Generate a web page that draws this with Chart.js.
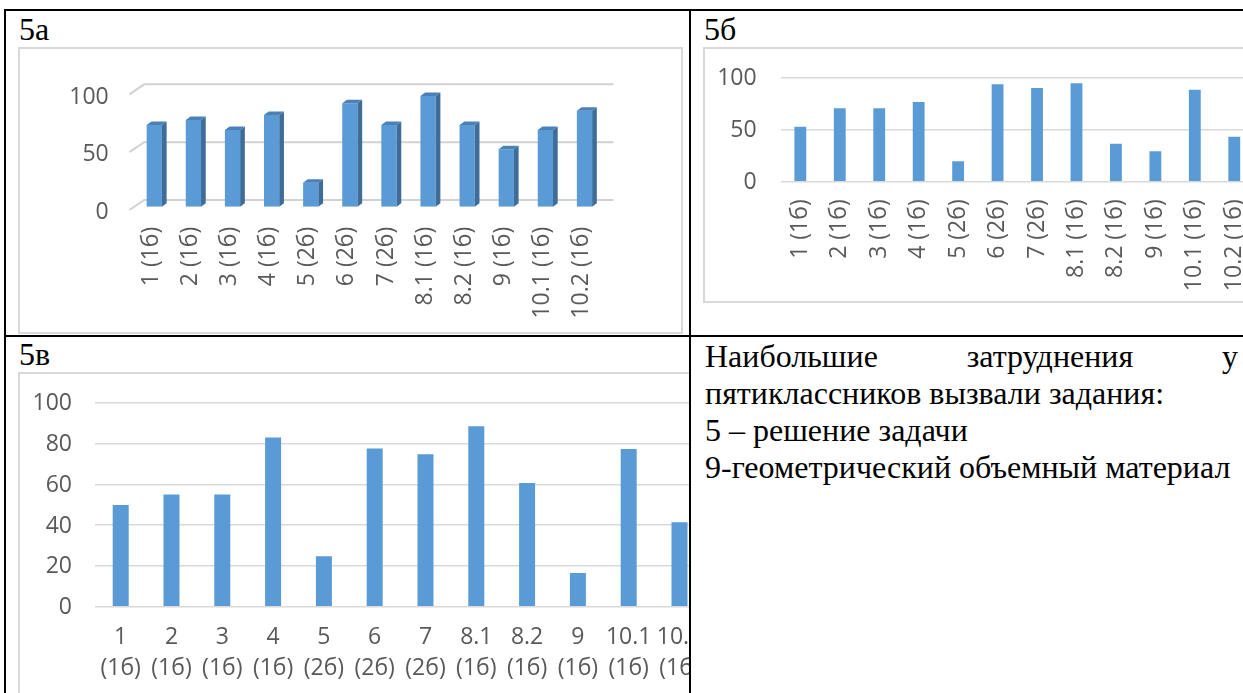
<!DOCTYPE html>
<html lang="ru">
<head>
<meta charset="utf-8">
<title>Результаты 5 классов</title>
<script src="https://cdn.jsdelivr.net/npm/chart.js@4.4.1/dist/chart.umd.min.js"></script>
<style>
  html, body { margin: 0; padding: 0; background: #fff; }
  body {
    position: relative; width: 1243px; height: 693px; overflow: hidden;
    font-family: "Liberation Serif", "Times New Roman", serif; color: #000;
  }
  .rule { position: absolute; background: #000; }
  .cap { position: absolute; font-size: 32px; line-height: 37px; white-space: nowrap; }
  .frame { position: absolute; border: 2px solid #d9d9d9; background: #fff; }
  .frame canvas { position: absolute; left: 0; top: 0; }
  .clip { position: absolute; overflow: hidden; }
  .note { position: absolute; left: 705px; top: 338px; width: 533px; font-size: 32px; line-height: 37px; }
  .note .just { text-align: justify; text-align-last: justify; }
</style>
</head>
<body>

<!-- table rules -->
<div class="rule" style="left:4px; top:9px; width:1239px; height:2px;"></div>
<div class="rule" style="left:4px; top:9px; width:2px; height:684px;"></div>
<div class="rule" style="left:689px; top:9px; width:2px; height:684px;"></div>
<div class="rule" style="left:4px; top:335px; width:1239px; height:2px;"></div>

<div class="cap" style="left:19px; top:11px;">5а</div>
<div class="frame" style="left:18px; top:47px; width:661px; height:283px;">
  <canvas id="c5a" width="661" height="283"></canvas>
</div>

<div class="cap" style="left:704px; top:11px;">5б</div>
<div class="frame" style="left:703px; top:47px; width:700px; height:252px;">
  <canvas id="c5b" width="700" height="252"></canvas>
</div>

<div class="clip" style="left:6px; top:337px; width:683px; height:356px;">
  <div class="cap" style="left:13px; top:-1px;">5в</div>
  <div class="frame" style="left:12px; top:35px; width:720px; height:340px;">
    <canvas id="c5v" width="720" height="340"></canvas>
  </div>
</div>

<div class="note">
  <div class="just">Наибольшие затруднения у</div>
  <div>пятиклассников вызвали задания:</div>
  <div>5 – решение задачи</div>
  <div>9-геометрический объемный материал</div>
</div>

<script>
// ------------------------------------------------------------
// data (% of the class that solved the task)
// ------------------------------------------------------------
const TASKS  = ["1", "2", "3", "4", "5", "6", "7", "8.1", "8.2", "9", "10.1", "10.2"];
const POINTS = ["(1б)", "(1б)", "(1б)", "(1б)", "(2б)", "(2б)", "(2б)", "(1б)", "(1б)", "(1б)", "(1б)", "(1б)"];

const VALUES_5A = [70.6, 74.9, 66.3, 79.3, 20.7, 89.4, 70.6, 95.7, 70.6, 49.6, 66.3, 83.0];
const VALUES_5B = [52.7, 70.3, 70.3, 76.3, 19.5, 93.3, 89.7, 94.2, 36.4, 29.1, 88.1, 43.1];
const VALUES_5V = [49.8, 55.0, 55.0, 83.0, 24.7, 77.5, 74.7, 88.4, 60.6, 16.5, 77.3, 41.4];

const Y_TICKS_5A = [0, 50, 100];
const Y_TICKS_5B = [0, 50, 100];
const Y_TICKS_5V = [0, 20, 40, 60, 80, 100];

const BAR = "#5b9bd5";
const BAR_SIDE = "#3f6d99";
const BAR_TOP = "#4b81b6";
const GRID = "#d9d9d9";
const LABEL = "#595959";
const FONT = { family: "'Open Sans', 'Noto Sans', sans-serif", size: 23 };

const rotatedLabels = TASKS.map((t, i) => t + " " + POINTS[i]);
const stackedLabels = TASKS.map((t, i) => [t, POINTS[i]]);

// fake Excel 3D: back wall grid + bar sides/tops
const WALL = { dx: 9.4, dy: 6.7 };
const FLOOR = { dx: 5.3, dy: 3.3 };
const DEPTH = { dx: 4.7, dy: 3.5 };

const bar3d = {
    id: "bar3d",
    beforeDatasetsDraw(chart) {
        const { ctx, chartArea: a, scales: { y } } = chart;
        ctx.save();
        ctx.strokeStyle = "#d2d2d2";
        ctx.lineWidth = 2;
        y.ticks.forEach(t => {
            const py = y.getPixelForValue(t.value);
            ctx.beginPath();
            ctx.moveTo(a.left - FLOOR.dx, py + FLOOR.dy);
            ctx.lineTo(a.left + WALL.dx, py - WALL.dy);
            ctx.lineTo(a.right + WALL.dx, py - WALL.dy);
            ctx.stroke();
        });
        ctx.restore();
    },
    afterDatasetsDraw(chart) {
        const { ctx } = chart;
        ctx.save();
        chart.getDatasetMeta(0).data.forEach(bar => {
            const { x, y, base, width } = bar.getProps(["x", "y", "base", "width"], true);
            const l = x - width / 2, r = x + width / 2;
            ctx.fillStyle = BAR_SIDE;
            ctx.beginPath();
            ctx.moveTo(r, y);
            ctx.lineTo(r + DEPTH.dx, y - DEPTH.dy);
            ctx.lineTo(r + DEPTH.dx, base - DEPTH.dy);
            ctx.lineTo(r, base);
            ctx.closePath();
            ctx.fill();
            ctx.fillStyle = BAR_TOP;
            ctx.beginPath();
            ctx.moveTo(l, y);
            ctx.lineTo(r, y);
            ctx.lineTo(r + DEPTH.dx, y - DEPTH.dy);
            ctx.lineTo(l + DEPTH.dx, y - DEPTH.dy);
            ctx.closePath();
            ctx.fill();
        });
        ctx.restore();
    }
};

function makeChart(id, cfg) {
    const ticksY = cfg.yTicks;
    return new Chart(document.getElementById(id), {
        type: "bar",
        data: {
            labels: cfg.labels,
            datasets: [{
                data: cfg.values,
                backgroundColor: BAR,
                borderWidth: 0,
                barPercentage: cfg.barPct,
                categoryPercentage: 1
            }]
        },
        plugins: cfg.plugins || [],
        options: {
            responsive: false,
            animation: false,
            events: [],
            layout: { padding: { top: cfg.area.top, right: cfg.area.right, left: 0, bottom: 0 } },
            plugins: { legend: { display: false }, tooltip: { enabled: false } },
            scales: {
                x: {
                    grid: { display: false, drawTicks: false },
                    border: { display: false },
                    ticks: {
                        color: LABEL,
                        font: { ...FONT, lineHeight: cfg.lineHeight || 1.2 },
                        autoSkip: false,
                        minRotation: cfg.rotation,
                        maxRotation: cfg.rotation,
                        padding: cfg.xPad,
                        labelOffset: cfg.xOffset || 0
                    },
                    afterFit: s => {
                        s.height = cfg.area.xHeight;
                        s.paddingLeft = 0;
                        s.paddingRight = 0;
                    }
                },
                y: {
                    min: 0,
                    max: ticksY[ticksY.length - 1],
                    afterBuildTicks: s => { s.ticks = ticksY.map(v => ({ value: v })); },
                    grid: { display: !cfg.plugins, color: GRID, lineWidth: 1.5, drawTicks: false },
                    border: { display: false },
                    ticks: {
                        color: LABEL,
                        font: FONT,
                        padding: cfg.yPad,
                        labelOffset: cfg.yOffset || 0
                    },
                    afterFit: s => {
                        s.width = cfg.area.left;
                        s.paddingTop = 0;
                        s.paddingBottom = 0;
                    }
                }
            }
        }
    });
}

makeChart("c5a", {
    labels: rotatedLabels, values: VALUES_5A, yTicks: Y_TICKS_5A,
    barPct: 0.39, rotation: 90, xPad: 20, xOffset: -3, yPad: 26, yOffset: 6,
    area: { left: 114.75, top: 42, right: 76.95, xHeight: 125.3 },
    plugins: [bar3d]
});

makeChart("c5b", {
    labels: rotatedLabels, values: VALUES_5B, yTicks: Y_TICKS_5B,
    barPct: 0.30, rotation: 90, xPad: 17.6, yPad: 24, yOffset: 1,
    area: { left: 75.6, top: 28.3, right: 151, xHeight: 119.3 }
});

makeChart("c5v", {
    labels: stackedLabels, values: VALUES_5V, yTicks: Y_TICKS_5V,
    barPct: 0.315, rotation: 0, xPad: 15.7, yPad: 23.3, yOffset: 1, lineHeight: 1.33,
    area: { left: 75.3, top: 28.7, right: 35.1, xHeight: 107.3 }
});
</script>
</body>
</html>
